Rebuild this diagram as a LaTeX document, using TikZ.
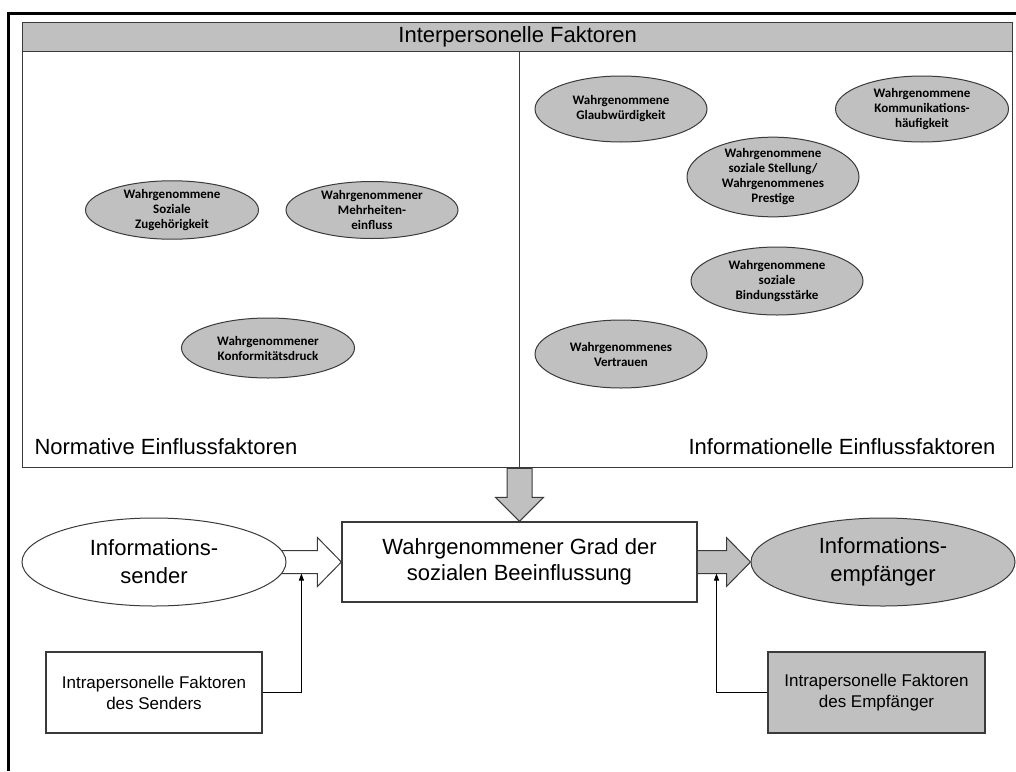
\documentclass[tikz,border=0pt]{standalone}
\usepackage{fontspec}
\setmainfont{Liberation Sans}
\newfontfamily\calibfont{Carlito}
\usetikzlibrary{calc,shapes.geometric,arrows.meta}
\definecolor{fillgray}{HTML}{C0C0C0}
\definecolor{linegray}{HTML}{3A3A3A}
\pgfdeclarelayer{behind}
\pgfsetlayers{behind,main}
\begin{document}
\begin{tikzpicture}[x=1pt,y=-1pt,
  frame/.style={draw=linegray, line width=1.4pt},
  factor/.style={ellipse, draw=linegray, line width=1pt, fill=fillgray, inner sep=0pt,
    minimum width=172pt, minimum height=62pt, align=center,
    font=\calibfont\bfseries\fontsize{13}{15}\selectfont},
  actor/.style={ellipse, draw=linegray, line width=1pt, inner sep=0pt,
    minimum width=264pt, minimum height=88pt, align=center,
    font=\fontsize{22}{28}\selectfont},
  intrabox/.style={rectangle, draw=linegray, line width=1.2pt, inner sep=0pt,
    minimum width=216pt, minimum height=81pt, align=center,
    font=\fontsize{17}{21}\selectfont},
  blockarrow/.style={draw=linegray, line width=1pt, line join=miter},
  link/.style={draw=black, line width=1pt, -{Triangle[length=7pt,width=5pt]}},
  bigfont/.style={font=\fontsize{22}{26}\selectfont}
]
\useasboundingbox (0,0) rectangle (1016,771);

% outer frame
\draw[line width=3pt] (8,771) -- (8,13) -- (1016,13);

% panel of interpersonal factors
\node[frame, rectangle, inner sep=0pt, minimum width=990pt, minimum height=445pt,
  anchor=north west] (panel) at (22,22) {};
\node[frame, rectangle, fill=fillgray, inner sep=0pt, minimum width=990pt,
  minimum height=29pt, anchor=north west, bigfont]
  (head) at (22,22) {Interpersonelle Faktoren};
\draw[frame] ([xshift=2pt]head.south) -- ([xshift=2pt]panel.south);

\node[anchor=base west, bigfont] (norm) at (31,454)
  {Normative Einflussfaktoren};
\node[anchor=base east, bigfont] (info) at (999,454)
  {Informationelle Einflussfaktoren};

% normative factors
\node[factor, minimum height=57pt, minimum width=173pt] (zug) at (172,210)
  {Wahrgenommene\\Soziale\\Zugehörigkeit};
\node[factor, minimum height=57pt] (mehr) at (372,210)
  {Wahrgenommener\\Mehrheiten-\\einfluss};
\node[factor, minimum height=60pt, minimum width=173pt] (konf) at (268,348)
  {Wahrgenommener\\Konformitätsdruck};

% informational factors
\node[factor, minimum height=66pt] (glaub) at (621,109)
  {Wahrgenommene\\Glaubwürdigkeit};
\node[factor, minimum height=66pt, minimum width=173pt] (komm) at (922,109)
  {Wahrgenommene\\Kommunikations-\\häufigkeit};
\node[factor, minimum height=68pt] (stell) at (773,177)
  {Wahrgenommene\\soziale Stellung/\\Wahrgenommenes\\Prestige};
\node[factor, minimum height=68pt] (bind) at (777,281)
  {Wahrgenommene\\soziale\\Bindungsstärke};
\node[factor, minimum height=68pt] (vert) at (621,354)
  {Wahrgenommenes\\Vertrauen};

% communication chain
\node[rectangle, draw=linegray, line width=1.2pt, inner sep=0pt, minimum width=355pt,
  minimum height=80pt, align=center, font=\fontsize{22}{26}\selectfont]
  (cen) at (519.5,562) {Wahrgenommener Grad der\\sozialen Beeinflussung};
\node[actor, fill=white] (snd) at (154,562) {Informations-\\sender};
\node[actor, fill=fillgray] (rcv) at (883,562) {Informations-\\empfänger};

\node[intrabox] (sbox) at (154,692.5) {Intrapersonelle Faktoren\\des Senders};
\node[intrabox, fill=fillgray, minimum width=217pt] (rbox) at (876.5,692.5)
  {Intrapersonelle Faktoren\\des Empfänger};

% block arrows
\draw[blockarrow, fill=fillgray]
  ($(cen.north |- panel.south)+(-12.5,0)$) -- ($(cen.north)+(-12.5,-24)$)
  -- ($(cen.north)+(-24,-24)$) -- (cen.north) -- ($(cen.north)+(24,-24)$)
  -- ($(cen.north)+(12.5,-24)$) -- ($(cen.north |- panel.south)+(12.5,0)$) -- cycle;
\begin{pgfonlayer}{behind}
\draw[blockarrow, fill=white]
  ($(snd.east)+(-12,-11.5)$) -- ($(cen.west)+(-24,-11.5)$) -- ($(cen.west)+(-24,-24.5)$)
  -- (cen.west) -- ($(cen.west)+(-24,24.5)$) -- ($(cen.west)+(-24,11.5)$)
  -- ($(snd.east)+(-12,11.5)$);
\draw[blockarrow, fill=fillgray]
  ($(cen.east)+(0,-11.5)$) -- ($(rcv.west)+(-24,-11.5)$) -- ($(rcv.west)+(-24,-24.5)$)
  -- (rcv.west) -- ($(rcv.west)+(-24,24.5)$) -- ($(rcv.west)+(-24,11.5)$)
  -- ($(cen.east)+(0,11.5)$);
\end{pgfonlayer}

% intrapersonal influences
\coordinate (lin1) at ($(cen.west)+(-40,11.5)$);
\coordinate (lin2) at ($(rcv.west)+(-34,11.5)$);
\draw[link] (sbox.east) -| (lin1);
\draw[link] (rbox.west) -| (lin2);
\end{tikzpicture}
\end{document}
